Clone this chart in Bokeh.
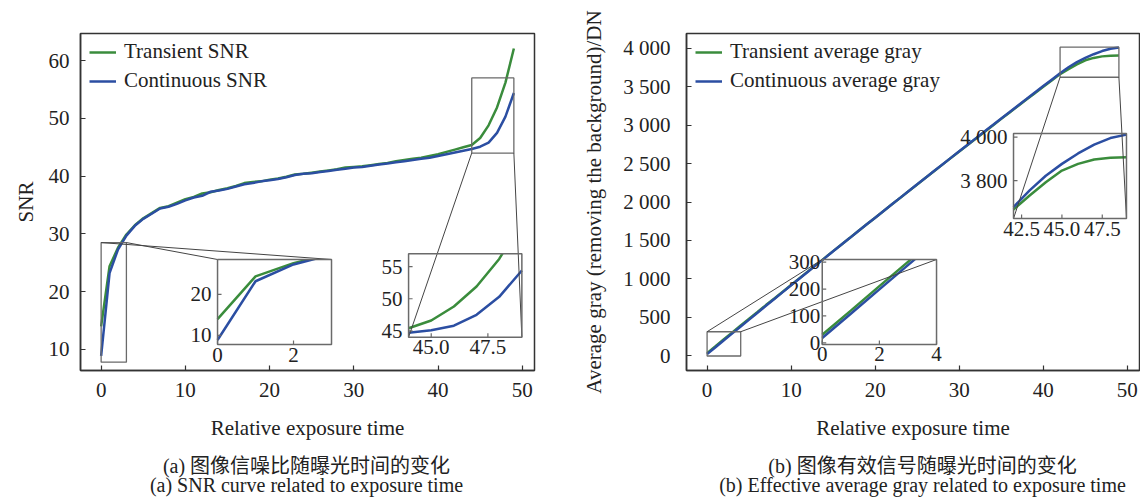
import numpy as np
from bokeh.plotting import figure
from bokeh.layouts import column, row
from bokeh.models import Range1d, FixedTicker, Legend, LegendItem
from bokeh.core.properties import value
from bokeh.embed import file_html
from bokeh.resources import INLINE

FONT = "Liberation Serif"
CJK = "Liberation Serif, Noto Sans CJK SC"
GREEN = "#3a8c3c"
BLUE = "#2b4ea2"
INK = "#222222"
FRAME = "#333333"
INSET_FRAME = "#6a6a6a"
CONNECT = "#444444"

# ---------------- data ----------------
exposure = list(range(50))

snr_transient = [14.0, 24.4, 27.6, 29.9, 31.5, 32.7, 33.6, 34.5, 34.8, 35.4,
                 36.0, 36.4, 37.0, 37.2, 37.6, 37.9, 38.3, 38.8, 39.0, 39.1,
                 39.4, 39.6, 39.9, 40.3, 40.4, 40.6, 40.8, 41.0, 41.2, 41.5,
                 41.6, 41.7, 41.9, 42.1, 42.3, 42.6, 42.8, 43.0, 43.2, 43.5,
                 43.8, 44.2, 44.6, 45.0, 45.4, 46.6, 48.8, 51.9, 56.2, 62.1]
snr_continuous = [8.9, 23.2, 27.3, 29.7, 31.4, 32.6, 33.5, 34.4, 34.7, 35.2,
                  35.8, 36.3, 36.6, 37.3, 37.5, 37.8, 38.2, 38.6, 38.8, 39.1,
                  39.3, 39.5, 39.8, 40.2, 40.4, 40.5, 40.7, 40.9, 41.1, 41.3,
                  41.5, 41.6, 41.8, 42.0, 42.2, 42.4, 42.6, 42.8, 43.0, 43.2,
                  43.5, 43.8, 44.1, 44.4, 44.7, 45.1, 45.8, 47.5, 50.3, 54.4]

gray_transient = [30, 120, 211, 301, 391, 480, 568, 657, 744, 832,
                  920, 1008, 1096, 1184, 1272, 1360, 1447, 1534, 1622, 1709,
                  1796, 1883, 1970, 2056, 2143, 2229, 2315, 2401, 2487, 2572,
                  2658, 2743, 2828, 2913, 2998, 3083, 3167, 3251, 3335, 3418,
                  3502, 3584, 3666, 3731, 3792, 3846, 3877, 3897, 3905, 3908]
gray_continuous = [18, 108, 199, 289, 379, 468, 558, 648, 737, 826,
                   915, 1004, 1092, 1181, 1269, 1358, 1446, 1533, 1621, 1709,
                   1796, 1883, 1970, 2057, 2144, 2230, 2317, 2403, 2489, 2575,
                   2661, 2747, 2832, 2917, 3002, 3088, 3172, 3257, 3341, 3426,
                   3510, 3594, 3678, 3755, 3822, 3877, 3925, 3966, 3996, 4012]

x_ticks = [0, 10, 20, 30, 40, 50]
snr_ticks = [10, 20, 30, 40, 50, 60]
gray_ticks = [0, 500, 1000, 1500, 2000, 2500, 3000, 3500, 4000]
gray_tick_labels = ["0", "500", "1 000", "1 500", "2 000", "2 500", "3 000", "3 500", "4 000"]

# inset A (left panel, start of SNR)
insA_xlim = (0, 3)
insA_ylim = (7.8, 28.5)
insA_xticks, insA_xlabels = [0, 2], ["0", "2"]
insA_yticks, insA_ylabels = [10, 20], ["10", "20"]
# inset B (left panel, end of SNR)
insB_xlim = (44, 49)
insB_ylim = (44, 57)
insB_xticks, insB_xlabels = [45.0, 47.5], ["45.0", "47.5"]
insB_yticks, insB_ylabels = [45, 50, 55], ["45", "50", "55"]
# inset C (right panel, start of gray)
insC_xlim = (0, 4)
insC_ylim = (-6, 310)
insC_xticks, insC_xlabels = [0, 2, 4], ["0", "2", "4"]
insC_yticks, insC_ylabels = [0, 100, 200, 300], ["0", "100", "200", "300"]
# inset D (right panel, end of gray)
insD_xlim = (42, 49)
insD_ylim = (3625, 4017)
insD_xticks, insD_xlabels = [42.5, 45.0, 47.5], ["42.5", "45.0", "47.5"]
insD_yticks, insD_ylabels = [3800, 4000], ["3 800", "4 000"]

captions = ["(a) 图像信噪比随曝光时间的变化", "(a) SNR curve related to exposure time",
            "(b) 图像有效信号随曝光时间的变化", "(b) Effective average gray related to exposure time"]

FS = "21px"
MAIN_H = 445


def make_main(width, b_left, b_right, xr, yr, ylabel, yticks, ylabels, y_std, ylab_std):
    p = figure(width=width, height=MAIN_H, x_range=Range1d(*xr), y_range=Range1d(*yr),
               output_backend="svg", toolbar_location=None,
               min_border_left=b_left, min_border_right=b_right,
               min_border_top=33, min_border_bottom=75,
               background_fill_color="white", border_fill_color="white")
    p.grid.visible = False
    p.outline_line_color = FRAME
    p.outline_line_width = 1.5
    for ax in (p.xaxis[0], p.yaxis[0]):
        ax.major_tick_in = 5
        ax.major_tick_out = 0
        ax.minor_tick_line_color = None
        ax.axis_line_color = FRAME
        ax.axis_line_width = 1.5
        ax.major_tick_line_color = FRAME
        ax.major_tick_line_width = 1.2
        ax.major_label_text_font = FONT
        ax.major_label_text_font_size = FS
        ax.major_label_text_color = INK
        ax.axis_label_text_font = FONT
        ax.axis_label_text_font_size = FS
        ax.axis_label_text_font_style = "normal"
        ax.axis_label_text_color = INK
    p.xaxis[0].ticker = FixedTicker(ticks=x_ticks)
    p.xaxis[0].axis_label = "Relative exposure time"
    p.xaxis[0].major_label_standoff = 12
    p.xaxis[0].axis_label_standoff = 16
    p.yaxis[0].ticker = FixedTicker(ticks=yticks)
    p.yaxis[0].major_label_overrides = {t: l for t, l in zip(yticks, ylabels)}
    p.yaxis[0].axis_label = ylabel
    p.yaxis[0].major_label_standoff = y_std
    p.yaxis[0].axis_label_standoff = ylab_std
    return p


def add_inset(p, ys_list, xlim, ylim, x_tgt, y_tgt, xticks, xlabels, yticks, ylabels,
              rect_pts, inset_pts, mask=None, y_label_off=-6):
    sub = p.subplot(x_source=Range1d(*xlim), y_source=Range1d(*ylim),
                    x_target=Range1d(*x_tgt), y_target=Range1d(*y_tgt))
    idx = [i for i, x in enumerate(exposure) if xlim[0] <= x <= xlim[1]]
    xs = [exposure[i] for i in idx]
    for ys, c in zip(ys_list, (GREEN, BLUE)):
        sub.line(xs, [ys[i] for i in idx], line_color=c, line_width=2.5)
    if mask is not None:
        # white band that hides the part of the curves above the inset's frame
        sub.quad(left=[mask[0]], right=[mask[1]], bottom=[ylim[1]], top=[mask[2]],
                 fill_color="white", line_color=None)
    # indicator rectangle on the main axes
    p.quad(left=[xlim[0]], right=[xlim[1]], bottom=[ylim[0]], top=[ylim[1]],
           fill_color=None, line_color=INSET_FRAME, line_width=1.3)
    # connectors
    p.segment(x0=[q[0] for q in rect_pts], y0=[q[1] for q in rect_pts],
              x1=[q[0] for q in inset_pts], y1=[q[1] for q in inset_pts],
              line_color=CONNECT, line_width=1)
    # inset frame
    sub.quad(left=[xlim[0]], right=[xlim[1]], bottom=[ylim[0]], top=[ylim[1]],
             fill_color=None, line_color=INSET_FRAME, line_width=1.5)
    # ticks
    sub.ray(x=xticks, y=[ylim[0]] * len(xticks), length=4, length_units="screen",
            angle=np.pi / 2, line_color=INSET_FRAME, line_width=1.2)
    sub.ray(x=[xlim[0]] * len(yticks), y=yticks, length=4, length_units="screen",
            angle=0, line_color=INSET_FRAME, line_width=1.2)
    sub.text(x=xticks, y=[ylim[0]] * len(xticks), text=xlabels, y_offset=3,
             text_align="center", text_baseline="top", text_font=value(FONT),
             text_font_size=FS, text_color=INK)
    sub.text(x=[xlim[0]] * len(yticks), y=yticks, text=ylabels, x_offset=y_label_off,
             text_align="right", text_baseline="middle", text_font=value(FONT),
             text_font_size=FS, text_color=INK)
    return sub


def add_legend(p, renderers, labels):
    legend = Legend(items=[LegendItem(label=l, renderers=[r]) for l, r in zip(labels, renderers)],
                    location=(9, 277), margin=0, padding=4, spacing=4,
                    glyph_width=27, glyph_height=24, label_height=24, label_standoff=8,
                    label_text_font=FONT, label_text_font_size=FS, label_text_color=INK,
                    border_line_color=None, background_fill_alpha=0)
    p.add_layout(legend, "center")


# ---------------- left panel ----------------
p1 = make_main(568, 80, 34, (-2.45, 51.45), (6.35, 64.7), "SNR",
               snr_ticks, [str(t) for t in snr_ticks], 11, 8)
g1 = p1.line(exposure, snr_transient, line_color=GREEN, line_width=2.5)
b1 = p1.line(exposure, snr_continuous, line_color=BLUE, line_width=2.5)
add_legend(p1, [g1, b1], ["Transient SNR", "Continuous SNR"])

A_tx, A_ty = (13.82, 27.35), (10.85, 25.57)
add_inset(p1, [snr_transient, snr_continuous], insA_xlim, insA_ylim, A_tx, A_ty,
          insA_xticks, insA_xlabels, insA_yticks, insA_ylabels,
          rect_pts=[(insA_xlim[0], insA_ylim[1]), (insA_xlim[1], insA_ylim[1])],
          inset_pts=[(A_tx[1], A_ty[1]), (A_tx[0], A_ty[1])],
          mask=(insA_xlim[0], insA_xlim[1] + 0.05, 31.0))

B_tx, B_ty = (36.50, 49.95), (12.11, 26.55)
add_inset(p1, [snr_transient, snr_continuous], insB_xlim, insB_ylim, B_tx, B_ty,
          insB_xticks, insB_xlabels, insB_yticks, insB_ylabels,
          rect_pts=[(insB_xlim[0], insB_ylim[0]), (insB_xlim[1], insB_ylim[0])],
          inset_pts=[(B_tx[0], B_ty[0]), (B_tx[1], B_ty[0])],
          mask=(insB_xlim[0], insB_xlim[1] + 0.05, 63.5))

# ---------------- right panel ----------------
p2 = make_main(572, 118, 1, (-2.45, 51.45), (-195, 4195),
               "Average gray (removing the background)/DN",
               gray_ticks, gray_tick_labels, 16, 14)
g2 = p2.line(exposure, gray_transient, line_color=GREEN, line_width=2.5)
b2 = p2.line(exposure, gray_continuous, line_color=BLUE, line_width=2.5)
add_legend(p2, [g2, b2], ["Transient average gray", "Continuous average gray"])

C_tx, C_ty = (13.70, 27.30), (144, 1251)
add_inset(p2, [gray_transient, gray_continuous], insC_xlim, insC_ylim, C_tx, C_ty,
          insC_xticks, insC_xlabels, insC_yticks, insC_ylabels,
          rect_pts=[(insC_xlim[0], insC_ylim[1]), (insC_xlim[1], insC_ylim[1])],
          inset_pts=[(C_tx[0], C_ty[1]), (C_tx[1], C_ty[1])],
          mask=(2.8, insC_xlim[1] + 0.08, 420), y_label_off=-2)

D_tx, D_ty = (36.46, 49.90), (1785, 2892)
add_inset(p2, [gray_transient, gray_continuous], insD_xlim, insD_ylim, D_tx, D_ty,
          insD_xticks, insD_xlabels, insD_yticks, insD_ylabels,
          rect_pts=[(insD_xlim[0], insD_ylim[0]), (insD_xlim[1], insD_ylim[0])],
          inset_pts=[(D_tx[0], D_ty[0]), (D_tx[1], D_ty[0])])

# ---------------- captions ----------------
CAP_H = 501 - MAIN_H
cap = figure(width=1140, height=CAP_H, x_range=Range1d(0, 1140), y_range=Range1d(CAP_H, 0),
             output_backend="svg", toolbar_location=None, min_border=0,
             x_axis_type=None, y_axis_type=None)
cap.outline_line_color = None
cap.grid.visible = False
cap.text(x=[306, 306, 922, 922], y=[20, 39, 20, 39], text=captions,
         text_font=value(CJK), text_font_size="20px", text_color=INK,
         text_align="center", text_baseline="middle")

layout = column(row(p1, p2), cap)
open("out.html", "w").write(file_html(layout, INLINE))
